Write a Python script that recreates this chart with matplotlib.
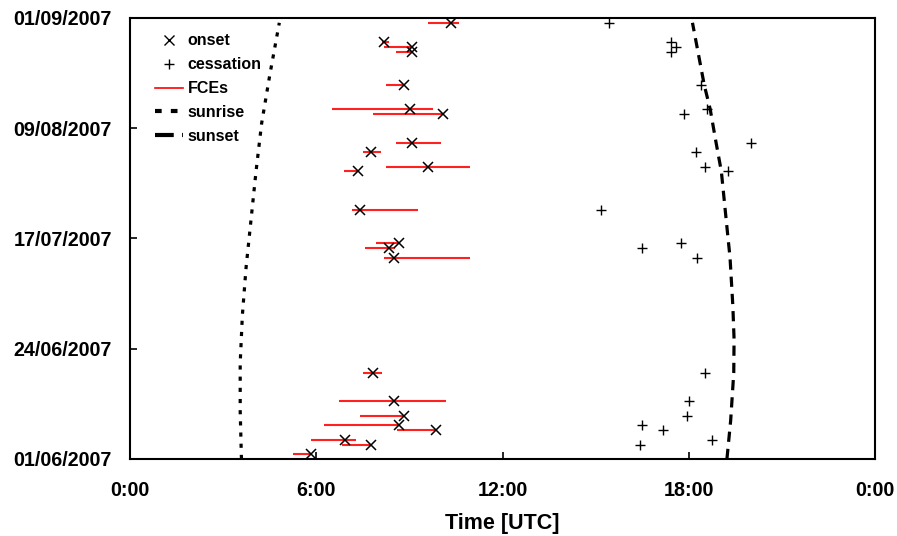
import matplotlib
matplotlib.use('Agg')
import matplotlib.pyplot as plt
import matplotlib.dates as mdates
from matplotlib.lines import Line2D
from datetime import datetime

plt.rcParams['font.family'] = ['Liberation Sans', 'DejaVu Sans']
plt.rcParams['font.weight'] = 'bold'

# ---------------- data ----------------
event_dates = ['2007-08-31', '2007-08-27', '2007-08-26', '2007-08-25', '2007-08-18',
               '2007-08-13', '2007-08-12', '2007-08-06', '2007-08-04', '2007-08-01',
               '2007-07-31', '2007-07-23', '2007-07-16', '2007-07-15', '2007-07-13',
               '2007-06-19', '2007-06-13', '2007-06-10', '2007-06-08', '2007-06-07',
               '2007-06-05', '2007-06-04', '2007-06-02']
onset = [10.34, 8.17, 9.09, 9.09, 8.83,
         9.01, 10.08, 9.09, 7.75, 9.60,
         7.33, 7.41, 8.66, 8.33, 8.50,
         7.84, 8.50, 8.84, 8.68, 9.85,
         6.93, 7.75, 5.83]
fce_start = [9.59, 8.11, 8.17, 8.58, 8.25,
             6.50, 7.84, 8.58, 7.51, 8.25,
             6.90, 7.16, 7.93, 7.58, 8.17,
             7.51, 6.74, 7.41, 6.25, 8.59,
             5.83, 6.83, 5.25]
fce_end = [10.60, 8.34, 9.09, 9.09, 8.83,
           9.75, 10.08, 10.02, 8.10, 10.94,
           7.33, 9.27, 8.66, 8.54, 10.94,
           8.11, 10.18, 8.84, 8.68, 9.85,
           7.27, 7.75, 5.83]
cessation = [15.43, 17.42, 17.60, 17.42, 18.41,
             18.59, 17.85, 20.02, 18.24, 18.51,
             19.26, 15.17, 17.76, 16.50, 18.26,
             18.51, 18.02, 17.93, 16.50, 17.18,
             18.76, 16.43, float('nan')]

sunrise_dates = ['2007-06-01', '2007-06-11', '2007-06-21', '2007-07-01', '2007-07-11',
                 '2007-07-21', '2007-07-31', '2007-08-10', '2007-08-20', '2007-08-31']
sunrise = [3.59, 3.55, 3.55, 3.62, 3.74, 3.90, 4.06, 4.24, 4.50, 4.81]

sunset_dates = ['2007-06-01', '2007-06-09', '2007-06-19', '2007-06-26', '2007-07-03',
                '2007-07-13', '2007-07-20', '2007-07-31', '2007-08-06', '2007-08-13',
                '2007-08-18', '2007-08-31']
sunset = [19.23, 19.35, 19.45, 19.46, 19.42, 19.33, 19.22, 19.05, 18.88, 18.69, 18.50, 18.12]

x_ticks = [0, 6, 12, 18, 24]
x_tick_labels = ['0:00', '6:00', '12:00', '18:00', '0:00']
y_tick_dates = ['2007-06-01', '2007-06-24', '2007-07-17', '2007-08-09', '2007-09-01']
x_label = 'Time [UTC]'
legend_labels = ['onset', 'cessation', 'FCEs', 'sunrise', 'sunset']


def to_num(ds):
    return [mdates.date2num(datetime.strptime(d, '%Y-%m-%d')) for d in ds]


ev_y = to_num(event_dates)
sr_y = to_num(sunrise_dates)
ss_y = to_num(sunset_dates)
yt = to_num(y_tick_dates)

# ---------------- figure ----------------
fig = plt.figure(figsize=(8.97, 5.36), dpi=100)
ax = fig.add_axes([130 / 897, 1 - 459 / 536, 745 / 897, 441 / 536])

ax.hlines(ev_y, fce_start, fce_end, colors='#ff2020', linewidth=1.5, zorder=2)
ax.plot(onset, ev_y, linestyle='none', marker='x', color='black',
        markersize=7, markeredgewidth=1.1, zorder=3)
ax.plot(cessation, ev_y, linestyle='none', marker='+', color='black',
        markersize=7, markeredgewidth=1.0, zorder=3)
ax.plot(sunrise, sr_y, color='black', linewidth=2.3, linestyle=(0, (1.3, 2.2)), zorder=2)
ax.plot(sunset, ss_y, color='black', linewidth=2.3, linestyle=(0, (3.2, 2.2)), zorder=2)

ax.set_xlim(0, 24)
ax.set_ylim(yt[0], yt[-1])
ax.set_xticks(x_ticks)
ax.set_xticklabels(x_tick_labels)
ax.set_yticks(yt)
ax.set_yticklabels([datetime.strptime(d, '%Y-%m-%d').strftime('%d/%m/%Y') for d in y_tick_dates])

for s in ax.spines.values():
    s.set_linewidth(1.5)
    s.set_color('black')

ax.tick_params(axis='both', direction='in', length=5, width=1.2, labelsize=14.2)
ax.tick_params(axis='x', pad=16)
ax.tick_params(axis='y', pad=13)
ax.set_xlabel(x_label, fontsize=15.5, fontweight='bold', labelpad=9)

handles = [
    Line2D([], [], linestyle='none', marker='x', color='black', markersize=7, markeredgewidth=1.0),
    Line2D([], [], linestyle='none', marker='+', color='black', markersize=7, markeredgewidth=1.0),
    Line2D([], [], color='red', linewidth=1.2),
    Line2D([], [], color='black', linewidth=3, linestyle=(0, (1.6, 2.2))),
    Line2D([], [], color='black', linewidth=3, linestyle=(0, (4.5, 2.0, 0.8, 2.0))),
]
leg = ax.legend(handles, legend_labels, loc='upper left', bbox_to_anchor=(0.025, 0.98),
                frameon=False, fontsize=11.5, handlelength=1.75, handletextpad=0.3,
                labelspacing=0.56, borderaxespad=0.0)

fig.savefig('out.png', dpi=100)
